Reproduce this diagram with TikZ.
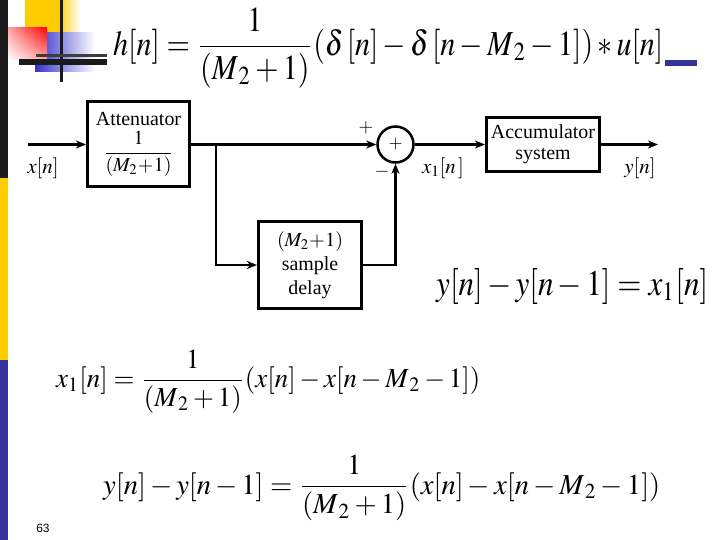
\documentclass[tikz,border=0pt]{standalone}
\usepackage{amsmath}
\usepackage{mathptmx}
\usepackage{fontspec}
\setmainfont{Liberation Serif}
\newfontfamily\slidefont{Liberation Sans}
\usepackage{graphicx}
\usetikzlibrary{arrows.meta,shadings}
\definecolor{slidegold}{HTML}{FFCC00}
\definecolor{slideblue}{HTML}{333399}
\definecolor{slideindigo}{HTML}{3333CC}
\definecolor{slideblack}{HTML}{1A1A1A}

\begin{document}
\begin{tikzpicture}[x=1bp, y=-1bp,
    boxn/.style={draw, line width=3bp, align=center, inner sep=0pt, font=\fontsize{20}{24}\selectfont},
    sumn/.style={draw, circle, line width=2.5bp, minimum size=36bp, inner sep=0pt, font=\fontsize{18}{18}\selectfont},
    lbl/.style={inner sep=0pt, font=\fontsize{21}{21}\selectfont},
    eqn/.style={inner sep=0pt, anchor=north west},
    sig/.style={draw, line width=2.5bp, -{Stealth[length=10bp,width=8bp,inset=3bp]}},
  ]
  \useasboundingbox (0,0) rectangle (720,540);
  % slide frame
  \fill[slideblack] (0,0) rectangle (8,178);
  \fill[slidegold] (0,178) rectangle (8,360);
  \fill[slideblue] (0,360) rectangle (8,540);
  \fill[slidegold] (25,0) rectangle (58,33);
  \shade[left color=slidegold, right color=white] (58,0) rectangle (80,33);
  \shade[left color=slideindigo, right color=white] (35,33) rectangle (95,72);
  \shade[upper right=red, lower left=white, upper left=red!35, lower right=red!35] (8,28) rectangle (47,60);
  \draw[slideblack, line width=3bp] (61,0) -- (61,82);
  \draw[slideblack!85, line width=3bp] (36,55.5) -- (107,55.5);
  \draw[slideblack, line width=6bp] (19,62.5) -- (107,62.5);
  \fill[slideblue] (665,60) rectangle (697,66);

  % equations
  \node[eqn] (eqh) at (113,8) {\resizebox*{550bp}{80bp}{$h[n]=\dfrac{1}{(M_{\,2}+1)}(\delta\,[n]-\delta\,[n-M_{\,2}-1])*u[n]$}};
  \node[eqn] (eqacc) at (436,268) {\resizebox*{272bp}{36bp}{$y[n]-y[n-1]=x_1[n]$}};
  \node[eqn] (eqxone) at (56,350) {\resizebox*{424bp}{63bp}{$x_1[n]=\dfrac{1}{(M_{\,2}+1)}(x[n]-x[n-M_{\,2}-1])$}};
  \node[eqn] (eqy) at (103,455) {\resizebox*{557bp}{66bp}{$y[n]-y[n-1]=\dfrac{1}{(M_{\,2}+1)}(x[n]-x[n-M_{\,2}-1])$}};

  % block diagram
  \node[boxn, minimum width=102bp, minimum height=85bp] (atten) at (138.5,144.5) {Attenuator\\[5bp] $\dfrac{1}{(M_2\!+\!1)}$};
  \node[sumn] (sum) at (395.5,144.5) {$+$};
  \node[boxn, minimum width=103bp, minimum height=86bp] (delay) at (310,265) {$(M_2\!+\!1)$\\sample\\delay};
  \node[boxn, minimum width=113bp, minimum height=54bp, font=\fontsize{20}{21}\selectfont] (accum) at (543,144.5) {Accumulator\\system};
  \coordinate (in) at (28,144.5);
  \coordinate (split) at (216,144.5);
  \coordinate (out) at (658,144.5);

  \draw[sig] (in) -- (atten.west);
  \draw[sig] (atten.east) -- (sum.west);
  \draw[sig] (split) |- (delay.west);
  \draw[sig] (delay.east) -| (sum.south);
  \draw[sig] (sum.east) -- (accum.west);
  \draw[sig] (accum.east) -- (out);

  \node[lbl] (xlbl) at (43,168) {$x[n]$};
  \node[lbl] (xonelbl) at (443,168) {$x_1[n\,]$};
  \node[lbl] (ylbl) at (640,168) {$y[n]$};
  \node[lbl, font=\fontsize{19}{19}\selectfont] (plus) at (366,128) {$+$};
  \node[lbl, font=\fontsize{19}{19}\selectfont] (minus) at (382,172) {$-$};

  \node[inner sep=0pt, font=\slidefont\fontsize{12}{12}\selectfont] (pgnum) at (43,528) {63};
\end{tikzpicture}
\end{document}
